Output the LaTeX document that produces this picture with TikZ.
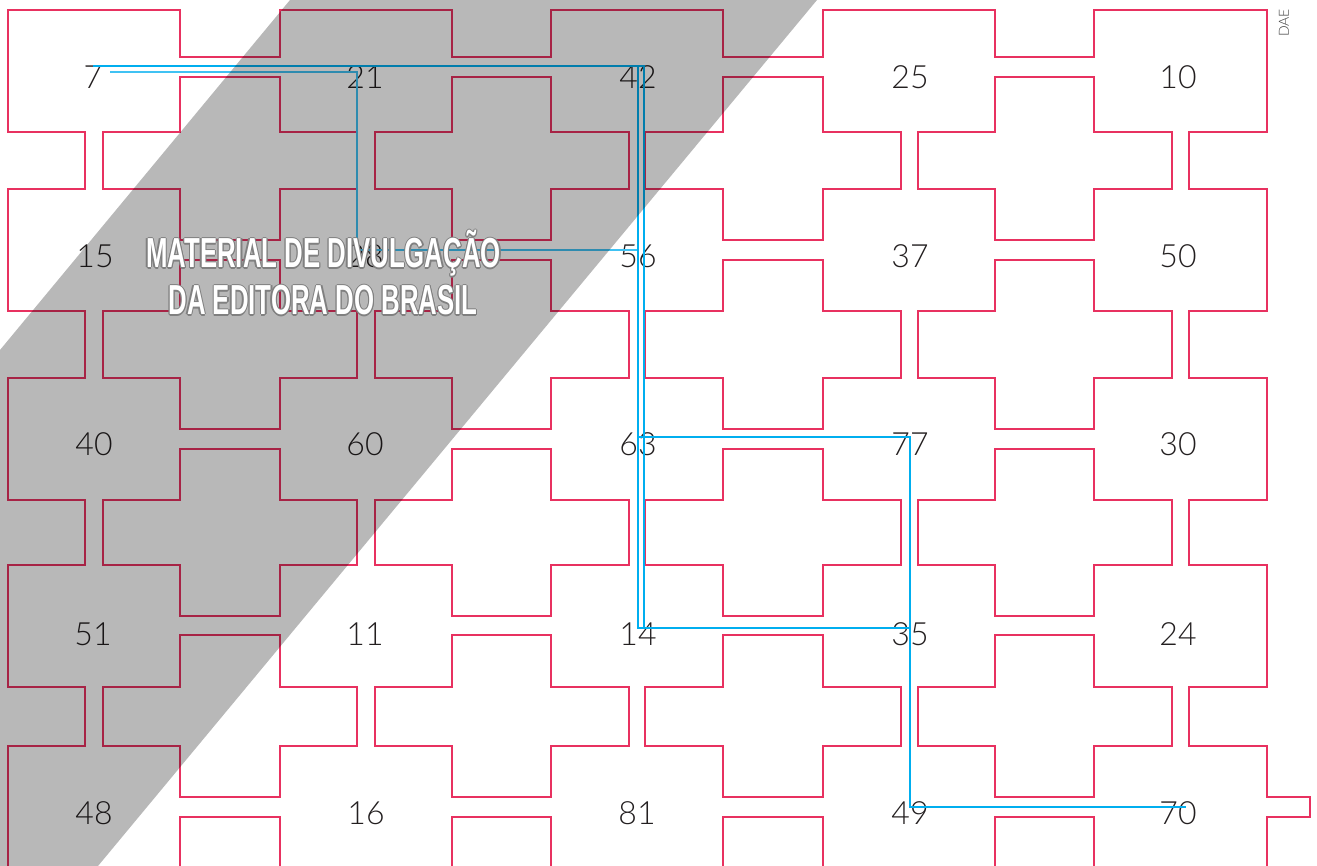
\documentclass[tikz,border=0pt]{standalone}
\usepackage{fontspec}
\setmainfont{Lato}
\newfontfamily\numfont{Lato Light}
\newfontfamily\wmfont{Liberation Sans}
\usetikzlibrary{calc}

\definecolor{mazepink}{RGB}{232,49,96}
\definecolor{routeblue}{RGB}{0,174,239}
\definecolor{numgray}{RGB}{35,31,32}

\newcommand{\wmline}[3]{%
  \foreach \dx/\dy [count=\k] in {1.2/0,-1.2/0,0/1.2,0/-1.2,.85/.85,-.85/.85,.85/-.85,-.85/-.85}
    \node[wmark, text=black!50] (#1s\k) at ($(#2)+(\dx,\dy)$) {#3};
  \node[wmark, text=white] (#1) at (#2) {#3};}

\begin{document}
\begin{tikzpicture}[
  x=1pt, y=-1pt,
  wall/.style={draw=mazepink, line width=2.9pt},
  num/.style={font=\numfont\fontsize{32}{32}\selectfont, text=numgray, inner sep=0pt},
  route/.style={draw=routeblue, line width=1.7pt},
  wmark/.style={font=\wmfont\bfseries\fontsize{42}{42}\selectfont, xscale=0.614, inner sep=0pt, anchor=base},
  band/.style={fill=black, opacity=0.28}
]
\useasboundingbox (0,0) rectangle (1317,866);
\clip (0,0) rectangle (1317,866);

% outer wall, exit on the right of 70
\draw[wall] (8,10)
  \foreach \xr/\xl in {180/280,452/551,723/823,995/1094}{ -- (\xr,10) -- (\xr,57) -- (\xl,57) -- (\xl,10) }
  -- (1267,10)
  \foreach \yb/\yt in {132/189,311/378,500/565,687/746}{ -- (1267,\yb) -- (1189,\yb) -- (1189,\yt) -- (1267,\yt) }
  -- (1267,797) -- (1310,797) -- (1310,817) -- (1267,817) -- (1267,880)
  \foreach \xl/\xr in {1094/995,823/723,551/452,280/180}{ -- (\xl,880) -- (\xl,817) -- (\xr,817) -- (\xr,880) }
  -- (8,880)
  \foreach \yt/\yb in {746/687,565/500,378/311,189/132}{ -- (8,\yt) -- (85,\yt) -- (85,\yb) -- (8,\yb) }
  -- cycle;

% crosses between the cells
\foreach \xr/\xl/\xa/\xb in {180/280/103/357,452/551/375/629,723/823/645/901,995/1094/918/1172}
  \foreach \yb/\yt/\yc/\yd in {132/189/77/240,311/378/260/429,500/565/449/616,687/746/635/797}
    \draw[wall] (\xr,\yc) -| (\xl,\yb) -| (\xb,\yt) -| (\xl,\yd) -| (\xr,\yt) -| (\xa,\yb) -- (\xr,\yb) -- cycle;

% numbers
\node[num] (n7)  at (93,77.5) {7};
\node[num] (n21) at (365,77.5) {21};
\node[num] (n42) at (638,77.5) {42};
\node[num] (n25) at (910,77.5) {25};
\node[num] (n10) at (1178,77.5) {10};
\node[num] (n15) at (95,256) {15};
\node[num] (n28) at (365,256) {28};
\node[num] (n56) at (638,256) {56};
\node[num] (n37) at (910,256) {37};
\node[num] (n50) at (1178,256) {50};
\node[num] (n40) at (94,444.5) {40};
\node[num] (n60) at (365,444.5) {60};
\node[num] (n63) at (638,444.5) {63};
\node[num] (n77) at (910,444.5) {77};
\node[num] (n30) at (1178,444.5) {30};
\node[num] (n51) at (93,634.5) {51};
\node[num] (n11) at (365,634.5) {11};
\node[num] (n14) at (638,634.5) {14};
\node[num] (n35) at (910,634.5) {35};
\node[num] (n24) at (1178,634.5) {24};
\node[num] (n48) at (94,813) {48};
\node[num] (n16) at (366,813) {16};
\node[num] (n81) at (637,813) {81};
\node[num] (n49) at (910,813) {49};
\node[num] (n70) at (1178,813) {70};

% routes
\draw[route] ($(n7)+(0,-11.5)$) -- ($(n42)+(6,-11.5)$) -- ($(n14)+(6,-6.5)$);
\draw[route, draw=routeblue!75] ($(n7)+(17,-5.5)$) -- ($(n21)+(-8,-5.5)$) -- ($(n28)+(-8,-6)$) -- ($(n56)+(0,-6)$);
\draw[route] ($(n42)+(0,-11.5)$) -- ($(n14)+(0,-6.5)$) -- ($(n35)+(1,-6.5)$);
\draw[route] ($(n63)+(0,-7.5)$) -- ($(n77)+(0,-7.5)$) -- ($(n49)+(0,-6)$) -- ($(n70)+(8,-6)$);

% grey band and its text
\fill[band] (290,0) -- (817,0) -- (98,866) -- (0,866) -- (0,350) -- cycle;
\coordinate (wmA) at (323.5,268);
\coordinate (wmB) at (323,315);
\wmline{wm1}{wmA}{MATERIAL DE DIVULGAÇÃO}
\wmline{wm2}{wmB}{DA EDITORA DO BRASIL}

\node[font=\numfont\fontsize{14}{14}\selectfont, text=black!75, rotate=90, inner sep=0pt] (dae) at (1284,23) {DAE};
\end{tikzpicture}
\end{document}
